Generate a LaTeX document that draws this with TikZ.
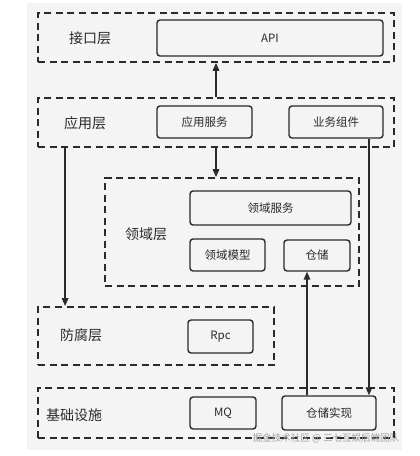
\documentclass[tikz,border=0pt]{standalone}
\usepackage{fontspec}
\setmainfont{Noto Sans CJK SC}
\usepackage{tikz}
\usetikzlibrary{arrows.meta,positioning,calc}

\definecolor{inkgray}{HTML}{2A2A2A}
\definecolor{bggray}{HTML}{F4F4F4}

\begin{document}
\begin{tikzpicture}[x=1pt, y=-1pt, every node/.style={inner sep=0pt, text=inkgray}]
        \tikzset{
            layer/.style={draw=inkgray, line width=1.8pt, dash pattern=on 7pt off 4.5pt},
            box/.style={draw=inkgray, rounded corners=3pt, line width=1.4pt, font=\fontsize{11.5}{13}\selectfont},
            lbl/.style={font=\fontsize{14}{16}\selectfont},
            arr/.style={-{Triangle[length=8pt,width=6.5pt]}, draw=inkgray, line width=1.6pt}
        }

        % Canvas and light backdrop
        \fill[white] (0,0) rectangle (420,456);
        \useasboundingbox (0,0) rectangle (420,456);
        \fill[bggray] (27,3) rectangle (402,450);

        % Layers (dashed frames)
        \node[layer, minimum width=356, minimum height=49] (iflayer) at (216,37.5) {};
        \node[layer, minimum width=356, minimum height=49] (applayer) at (216,122.5) {};
        \node[layer, minimum width=254, minimum height=108] (domlayer) at (232,232) {};
        \node[layer, minimum width=236, minimum height=58] (aclayer) at (156,336) {};
        \node[layer, minimum width=356, minimum height=50] (infralayer) at (216,413) {};

        % Layer names
        \node[lbl] (iflbl) at (90,38) {接口层};
        \node[lbl] (applbl) at (85,123) {应用层};
        \node[lbl] (domlbl) at (146,234) {领域层};
        \node[lbl] (aclbl) at (81,335) {防腐层};
        \node[lbl] (infralbl) at (74,415) {基础设施};

        % Components
        \node[box, minimum width=226, minimum height=36] (api) at (270,38) {API};
        \node[box, minimum width=95, minimum height=32] (appsvc) at (204.5,122) {应用服务};
        \node[box, minimum width=94, minimum height=32] (bizcomp) at (336,122) {业务组件};
        \node[box, minimum width=161, minimum height=34] (domsvc) at (270.5,208) {领域服务};
        \node[box, minimum width=75, minimum height=32] (dommodel) at (227.5,255) {领域模型};
        \node[box, minimum width=66, minimum height=31] (repo) at (317,255.5) {仓储};
        \node[box, minimum width=65, minimum height=33] (rpc) at (220.5,336.5) {Rpc};
        \node[box, minimum width=66, minimum height=32] (mq) at (223,413) {MQ};
        \node[box, minimum width=94, minimum height=34] (repoimpl) at (329,413) {仓储实现};

        % Watermark
        \node[font=\fontsize{9.5}{11}\selectfont, text=gray!75] (mark) at (326,438) {掘金技术社区 @ 三七互娱后端团队};

        % Dependencies
        \draw[arr] (applayer.north) -- (iflayer.south);
        \draw[arr] (applayer.south) -- (applayer.south |- domlayer.north);
        \draw[arr] ([xshift=28]applayer.south west) -- ([xshift=28]applayer.south west |- aclayer.north);
        \draw[arr] ([xshift=-22]repoimpl.north) -- ([xshift=-22]repoimpl.north |- repo.south);
        \draw[arr] ([xshift=33]bizcomp.south) -- ([xshift=33]bizcomp.south |- repoimpl.north);
    \end{tikzpicture}
\end{document}
